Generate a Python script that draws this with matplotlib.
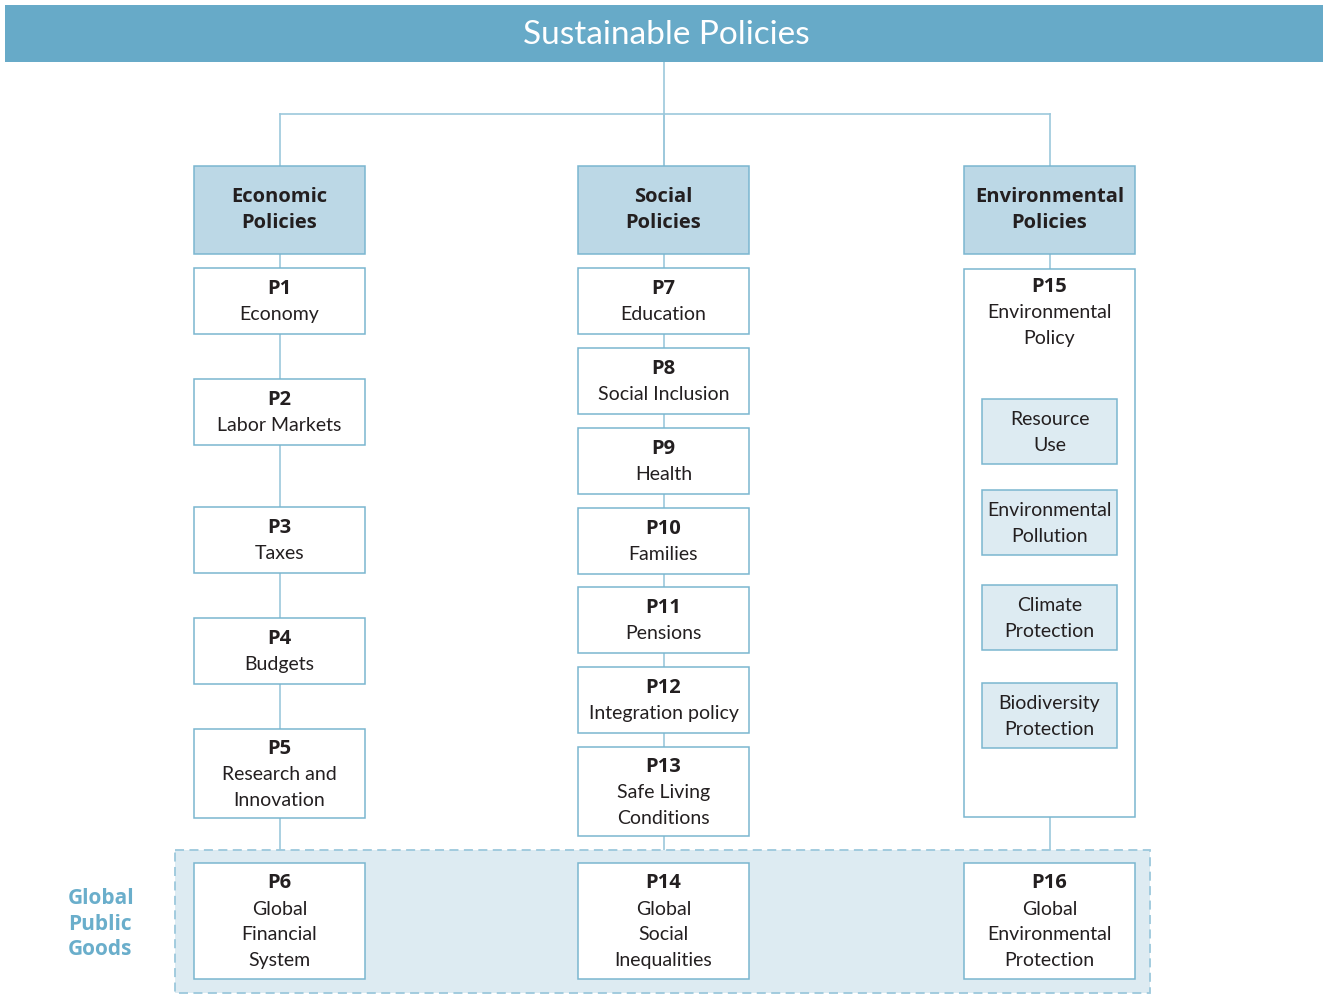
import matplotlib
matplotlib.use("Agg")
from matplotlib import pyplot as plt
from matplotlib.patches import Rectangle

plt.rcParams['font.family'] = ['Lato', 'DejaVu Sans']
BOLD_FAM = ['Open Sans', 'DejaVu Sans']

title = "Sustainable Policies"
headers = ["Economic\nPolicies", "Social\nPolicies", "Environmental\nPolicies"]

economic = [("P1", "Economy"), ("P2", "Labor Markets"), ("P3", "Taxes"),
            ("P4", "Budgets"), ("P5", "Research and\nInnovation")]
social = [("P7", "Education"), ("P8", "Social Inclusion"), ("P9", "Health"),
          ("P10", "Families"), ("P11", "Pensions"), ("P12", "Integration policy"),
          ("P13", "Safe Living\nConditions")]
environmental = ("P15", "Environmental\nPolicy")
env_topics = ["Resource\nUse", "Environmental\nPollution", "Climate\nProtection",
              "Biodiversity\nProtection"]
global_goods = [("P6", "Global\nFinancial\nSystem"), ("P14", "Global\nSocial\nInequalities"),
                ("P16", "Global\nEnvironmental\nProtection")]
global_label = "Global\nPublic\nGoods"

# layout (pixels)
BAR = '#67aac8'
HEAD = '#bcd8e6'
LIGHT = '#ddebf2'
EDGE = '#7ab6d0'
LINE = '#9cc8dc'
TXT = '#231f20'
col_x = [194, 578, 964]
box_w = 171
econ_tops = [269, 380, 508, 619, 730]
soc_tops = [269, 349, 429, 509, 588, 668, 748]
topic_tops = [400, 491, 586, 684]
LS = 25.8

fig = plt.figure(figsize=(13.23, 9.95), dpi=100)
ax = fig.add_axes([0, 0, 1, 1])
ax.set_xlim(0, 1323)
ax.set_ylim(995, 0)
ax.axis('off')


def box(x, y, w, h, fc, ec=EDGE, lw=1.1, ls='-', z=2):
    ax.add_patch(Rectangle((x, y), w, h, facecolor=fc, edgecolor=ec, lw=lw, ls=ls, zorder=z))


def lines_text(cx, cy, lines, bold_first=True, all_bold=False, size=14, top=None):
    n = len(lines)
    for i, s in enumerate(lines):
        y = (top + i * LS) if top is not None else cy + (i - (n - 1) / 2) * LS
        bold = all_bold or (bold_first and i == 0)
        if bold:
            ax.text(cx, y, s, ha='center', va='center', fontsize=14.5, color=TXT,
                    fontweight='bold', family=BOLD_FAM, zorder=5)
        else:
            ax.text(cx, y, s, ha='center', va='center', fontsize=size, color=TXT, zorder=5)


def line(xs, ys):
    ax.plot(xs, ys, color=LINE, lw=1.2, zorder=1)


# title bar
box(5, 6, 1318, 57, BAR, ec=BAR, lw=0)
ax.text(666, 35, title, ha='center', va='center', fontsize=24, color='white', zorder=5)

# connectors
centers = [x + box_w / 2 for x in col_x]
line([664, 664], [63, 167])
line([centers[0], centers[2]], [115, 115])
for cx in centers:
    line([cx, cx], [115, 851])

# global public goods band
box(175, 851, 975, 143, LIGHT, ec=LINE, lw=1.3, ls=(0, (5, 3)), z=1.5)
ax.text(68, 924, global_label, ha='left', va='center', fontsize=15, color='#6aaecb',
        fontweight='bold', family=BOLD_FAM, linespacing=1.27, zorder=5)

# headers
for x, h in zip(col_x, headers):
    box(x, 167, box_w, 88, HEAD)
    lines_text(x + box_w / 2, 210, h.split("\n"), all_bold=True)

# economic column
for (code, name), top in zip(economic, econ_tops):
    h = 89 if "\n" in name else 66
    box(col_x[0], top, box_w, h, 'white')
    lines_text(centers[0], top + h / 2, [code] + name.split("\n"))

# social column
for (code, name), top in zip(social, soc_tops):
    h = 89 if "\n" in name else 66
    box(col_x[1], top, box_w, h, 'white')
    lines_text(centers[1], top + h / 2, [code] + name.split("\n"))

# environmental column
box(col_x[2], 270, box_w, 548, 'white')
lines_text(centers[2], None, [environmental[0]] + environmental[1].split("\n"), top=287)
for t, top in zip(env_topics, topic_tops):
    box(982, top, 135, 65, LIGHT)
    lines_text(centers[2], top + 32.5, t.split("\n"), bold_first=False)

# global boxes
for x, (code, name) in zip(col_x, global_goods):
    box(x, 864, box_w, 116, 'white')
    lines_text(x + box_w / 2, 922, [code] + name.split("\n"))

fig.savefig("out.png", dpi=100)
